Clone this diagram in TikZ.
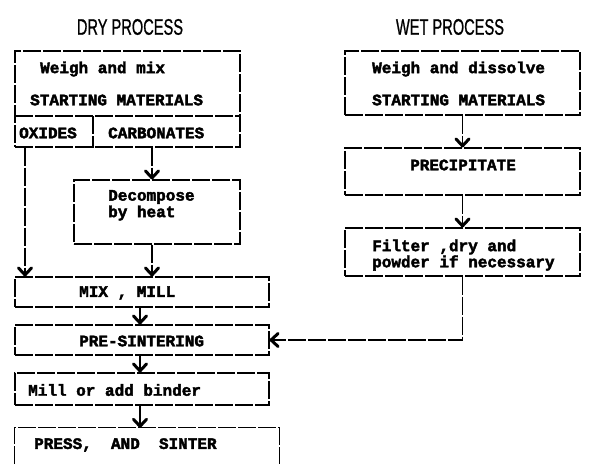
\documentclass[tikz,border=0pt]{standalone}
\usepackage{fontspec}
\setmainfont{Liberation Sans}
\newfontfamily\boxfont{Liberation Mono}[FakeBold=2.5]
\newfontfamily\ttlfont{Liberation Sans}[FakeBold=1]
\usetikzlibrary{arrows.meta}
\begin{document}
\begin{tikzpicture}[x=1pt,y=-1pt,
  ln/.style={line width=1.1pt, dash pattern=on 18pt off 2pt},
  box/.style={ln, draw, inner sep=0pt, rectangle},
  txt/.style={anchor=west, inner sep=0pt, font=\boxfont\fontsize{16}{18}\selectfont\bfseries},
  ttl/.style={inner sep=0pt, font=\ttlfont\fontsize{22.5}{24}\selectfont},
  arr/.style={ln, -{Straight Barb[length=7pt,width=13pt,line width=3pt,round]}}]
\useasboundingbox (0,0) rectangle (591,464);
% titles
\node[ttl] (tdry) at (130,27) {\scalebox{0.65}[1]{DRY PROCESS}};
\node[ttl] (twet) at (450,27) {\scalebox{0.65}[1]{WET PROCESS}};
% dry boxes
\node[box, minimum width=225pt, minimum height=96pt] (ds) at (127.5,99) {};
\coordinate (divl) at (15,116);
\coordinate (divr) at (240,116);
\coordinate (divt) at (93,116);
\draw[ln] (divl) -- (divr);
\draw[ln] (divt) -- (divt |- ds.south);
\node[box, minimum width=166pt, minimum height=64pt] (dec) at (157,212) {};
\node[box, minimum width=254pt, minimum height=30pt] (mix) at (142,292) {};
\node[box, minimum width=254pt, minimum height=30pt] (pre) at (142,340) {};
\node[box, minimum width=254pt, minimum height=32pt] (mill) at (142,389) {};
\node[inner sep=0pt, minimum width=264pt, minimum height=36pt] (press) at (147,446) {};
\draw[ln] (press.south west) -- (press.north west) -- (press.north east) -- (press.south east);
% wet boxes
\node[box, minimum width=235pt, minimum height=64pt] (ws) at (462.5,83) {};
\node[box, minimum width=235pt, minimum height=47pt] (prec) at (462.5,171.5) {};
\node[box, minimum width=235pt, minimum height=48pt] (filt) at (462.5,252) {};
% texts
\node[txt] (t1) at (40,69) {Weigh and mix};
\node[txt] (t2) at (30,100) {STARTING MATERIALS};
\node[txt] (t3) at (19,133) {OXIDES};
\node[txt] (t4) at (108,133) {CARBONATES};
\node[txt] (t5) at (108,197) {Decompose};
\node[txt] (t6) at (108,213) {by heat};
\node[txt] (t7) at (79,293) {MIX , MILL};
\node[txt] (t8) at (79,341) {PRE-SINTERING};
\node[txt] (t9) at (28,390) {Mill or add binder};
\node[txt] (t10) at (34,445) {PRESS,\ \ AND\ \ SINTER};
\node[txt] (t11) at (372,69) {Weigh and dissolve};
\node[txt] (t12) at (372,100) {STARTING MATERIALS};
\node[txt] (t13) at (410,165) {PRECIPITATE};
\node[txt] (t14) at (372,247) {Filter ,dry and};
\node[txt] (t15) at (372,263) {powder if necessary};
% arrows
\draw[arr] (ds.south -| 25,0) -- (mix.north -| 25,0);
\draw[arr] (ds.south -| 152,0) -- (dec.north -| 152,0);
\draw[arr] (dec.south -| 152,0) -- (mix.north -| 152,0);
\draw[arr] (mix.south -| 140,0) -- (pre.north -| 140,0);
\draw[arr] (pre.south -| 140,0) -- (mill.north -| 140,0);
\draw[arr] (mill.south -| 140,0) -- (press.north -| 140,0);
\draw[arr] (ws.south) -- (prec.north);
\draw[arr] (prec.south) -- (filt.north);
\draw[arr] (filt.south) |- (pre.east);
\end{tikzpicture}
\end{document}
